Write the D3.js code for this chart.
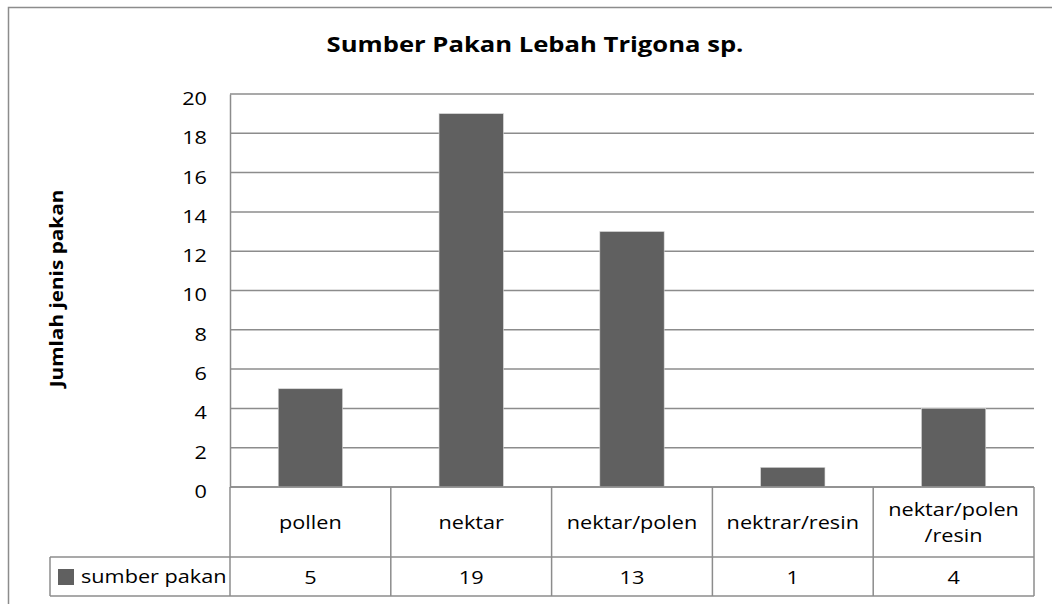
<!DOCTYPE html>
<html><head><meta charset="utf-8">
<script src="https://cdn.jsdelivr.net/npm/d3@7"></script>
<style>
html,body{margin:0;padding:0;background:#fff;}
svg{display:block;}
text{font-family:"Open Sans",sans-serif;fill:#000;}
</style></head>
<body>
<svg id="chart" width="1052" height="604"></svg>
<script>
const categories = ["pollen", "nektar", "nektar/polen", "nektrar/resin", "nektar/polen\n/resin"];
const values = [5, 19, 13, 1, 4];
const seriesName = "sumber pakan";
const yTicks = [0, 2, 4, 6, 8, 10, 12, 14, 16, 18, 20];
const titleText = "Sumber Pakan Lebah Trigona sp.";
const yTitle = "Jumlah jenis pakan";

const svg = d3.select("#chart");
const grid = "#8c8c8c", barColor = "#606060";

function stretch(sel, f){
  const sx = f || 1.14;
  sel.each(function(){
    const len = this.getComputedTextLength();
    if (len > 0) d3.select(this).attr("textLength", len * sx).attr("lengthAdjust", "spacingAndGlyphs");
  });
}

// outer chart border (extends beyond the window on right/bottom)
svg.append("rect").attr("x", 8.5).attr("y", 7.5).attr("width", 1060).attr("height", 620)
  .attr("fill", "none").attr("stroke", grid).attr("stroke-width", 1.5);

const plot = {left: 230, right: 1034, top: 94, bottom: 487};
const rowCat = {top: 487, bottom: 557};
const rowVal = {top: 557, bottom: 596};
const legendLeft = 50;

const x = d3.scaleBand().domain(categories).range([plot.left, plot.right]);
const y = d3.scaleLinear().domain([0, 20]).range([plot.bottom, plot.top]);

// gridlines
svg.append("g").selectAll("line").data(yTicks).join("line")
  .attr("x1", plot.left).attr("x2", plot.right)
  .attr("y1", d => y(d)).attr("y2", d => y(d))
  .attr("stroke", grid).attr("stroke-width", 1.5);

// y axis with labels
const yAxis = d3.axisLeft(y).tickValues(yTicks).tickSize(0).tickPadding(23);
const gy = svg.append("g").attr("transform", `translate(${plot.left},0)`).call(yAxis);
gy.select(".domain").attr("stroke", grid).attr("stroke-width", 1.5);
gy.selectAll("text").attr("font-size", 19).attr("font-family", '"Open Sans",sans-serif')
  .attr("fill", "#000").attr("dy", "0.55em").call(stretch);

// bars
const bw = x.bandwidth() * 0.4;
svg.append("g").selectAll("rect").data(values).join("rect")
  .attr("x", (d, i) => x(categories[i]) + x.bandwidth() / 2 - bw / 2)
  .attr("y", d => y(d)).attr("width", bw).attr("height", d => y(0) - y(d))
  .attr("fill", barColor).attr("stroke", "#d8d8d8").attr("stroke-width", 0.6);

// data table
const tbl = svg.append("g").attr("stroke", grid).attr("stroke-width", 1.5);
tbl.append("line").attr("x1", plot.left).attr("x2", plot.right).attr("y1", rowCat.top).attr("y2", rowCat.top);
tbl.append("line").attr("x1", legendLeft).attr("x2", plot.right).attr("y1", rowVal.top).attr("y2", rowVal.top);
tbl.append("line").attr("x1", legendLeft).attr("x2", plot.right).attr("y1", rowVal.bottom).attr("y2", rowVal.bottom);
tbl.append("line").attr("x1", legendLeft).attr("x2", legendLeft).attr("y1", rowVal.top).attr("y2", rowVal.bottom);
const bounds = categories.map(c => x(c)).concat([plot.right]);
tbl.selectAll(".v").data(bounds).join("line").attr("class", "v")
  .attr("x1", d => d).attr("x2", d => d).attr("y1", rowCat.top).attr("y2", rowVal.bottom);

// category labels
const catG = svg.append("g");
categories.forEach(c => {
  const lines = c.split("\n");
  const cx = x(c) + x.bandwidth() / 2;
  const cy = (rowCat.top + rowCat.bottom) / 2;
  const lh = 26;
  lines.forEach((ln, j) => {
    catG.append("text").attr("x", cx).attr("y", cy + (j - (lines.length - 1) / 2) * lh)
      .attr("dy", "0.35em").attr("text-anchor", "middle").attr("font-size", 19).text(ln).call(stretch);
  });
});

// value labels
svg.append("g").selectAll("text").data(values).join("text")
  .attr("x", (d, i) => x(categories[i]) + x.bandwidth() / 2)
  .attr("y", (rowVal.top + rowVal.bottom) / 2).attr("dy", "0.4em")
  .attr("text-anchor", "middle").attr("font-size", 19).text(d => d).call(stretch);

// legend key in table
svg.append("rect").attr("x", 58).attr("y", 569).attr("width", 16).attr("height", 16).attr("fill", barColor);
svg.append("text").attr("x", 81).attr("y", (rowVal.top + rowVal.bottom) / 2).attr("dy", "0.35em")
  .attr("font-size", 19).text(seriesName).call(stretch);

// title
svg.append("text").attr("x", 535).attr("y", 52).attr("text-anchor", "middle")
  .attr("font-size", 20.5).attr("font-weight", "bold").text(titleText).call(stretch, 1.25);

// y axis title
svg.append("text").attr("transform", `translate(63,${(plot.top + plot.bottom) / 2 - 2}) rotate(-90)`)
  .attr("text-anchor", "middle").attr("font-size", 17).attr("font-weight", "bold").text(yTitle).call(stretch, 1.22);
</script>
</body></html>
